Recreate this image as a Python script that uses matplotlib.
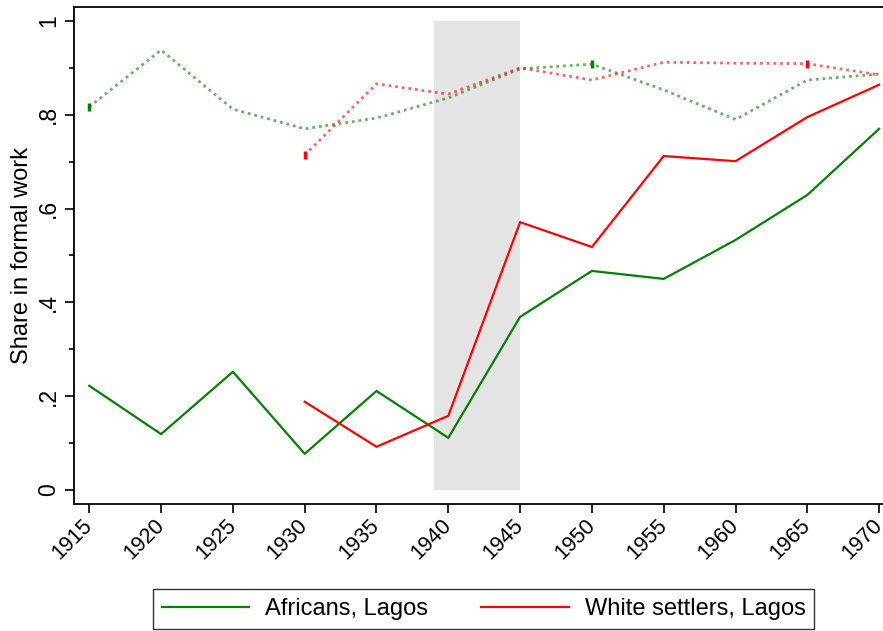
"""Share in formal work, Lagos"""

import matplotlib.pyplot as plt
import numpy as np

plt.rcParams['font.family'] = ['Liberation Sans', 'DejaVu Sans']

years = [1915, 1920, 1925, 1930, 1935, 1940, 1945, 1950, 1955, 1960, 1965, 1970]
settler_years = [1930, 1935, 1940, 1945, 1950, 1955, 1960, 1965, 1970]

africans = [0.222, 0.119, 0.252, 0.077, 0.211, 0.111, 0.369, 0.467, 0.450, 0.533, 0.629, 0.770]
settlers = [0.188, 0.092, 0.158, 0.571, 0.518, 0.712, 0.701, 0.795, 0.864]

africans_dot = [0.817, 0.938, 0.812, 0.770, 0.793, 0.836, 0.898, 0.908, 0.853, 0.790, 0.874, 0.887]
settlers_dot = [0.714, 0.866, 0.844, 0.900, 0.874, 0.912, 0.910, 0.909, 0.885]

war_start, war_end = 1939, 1945

fig = plt.figure(figsize=(8.83, 6.31), dpi=100)
ax = fig.add_axes([0.0842, 0.2013, 0.9158, 0.7881])

# shaded WWII band
ax.fill_between([war_start, war_end], 0, 1, color='#e4e4e4', lw=0, zorder=0)

# dotted comparison series
ax.plot(years, africans_dot, color='green', ls=(0, (1, 1.4)), lw=2.0, alpha=0.6)
ax.plot(settler_years, settlers_dot, color='red', ls=(0, (1, 1.4)), lw=2.0, alpha=0.6)
# small dark marks at a few points
ax.plot([years[0], years[7]], [africans_dot[0], africans_dot[7]], ls='none',
        marker='|', ms=6, mew=2.5, color='green')
ax.plot([settler_years[0], settler_years[7]], [settlers_dot[0], settlers_dot[7]], ls='none',
        marker='|', ms=6, mew=2.5, color='red')

# main series
ax.plot(years, africans, color='green', lw=1.6, label='Africans, Lagos')
ax.plot(settler_years, settlers, color='red', lw=1.6, label='White settlers, Lagos')

ax.set_xlim(1913.96, 1970.27)
ax.set_ylim(-0.030, 1.0305)
ax.set_xticks(years)
ax.set_xticklabels([str(y) for y in years], rotation=45, ha='right', va='center',
                   rotation_mode='anchor', fontsize=15.5)
ax.set_yticks(np.linspace(0, 1, 6))
ax.set_yticks(np.linspace(0.1, 0.9, 5), minor=True)
ax.set_yticklabels(['0', '.2', '.4', '.6', '.8', '1'], rotation=90, va='center', fontsize=16.5)
ax.tick_params(length=6.5, width=1.2, pad=4)
ax.tick_params(axis='x', pad=6.5)
ax.tick_params(axis='y', which='minor', length=3.6, width=1.2)
ax.set_ylabel('Share in formal work', fontsize=17)
ax.yaxis.set_label_coords(-0.051, 0.5)
ax.spines['right'].set_visible(False)
for s in ax.spines.values():
    s.set_linewidth(1.3)

fig.legend(loc='lower center', bbox_to_anchor=(0.5476, 0.003), ncol=2, fontsize=17,
           frameon=True, fancybox=False, edgecolor='black', handlelength=3.7,
           handletextpad=0.68, columnspacing=2.25, borderpad=0.38, borderaxespad=0)

fig.savefig('out.png', dpi=100)
